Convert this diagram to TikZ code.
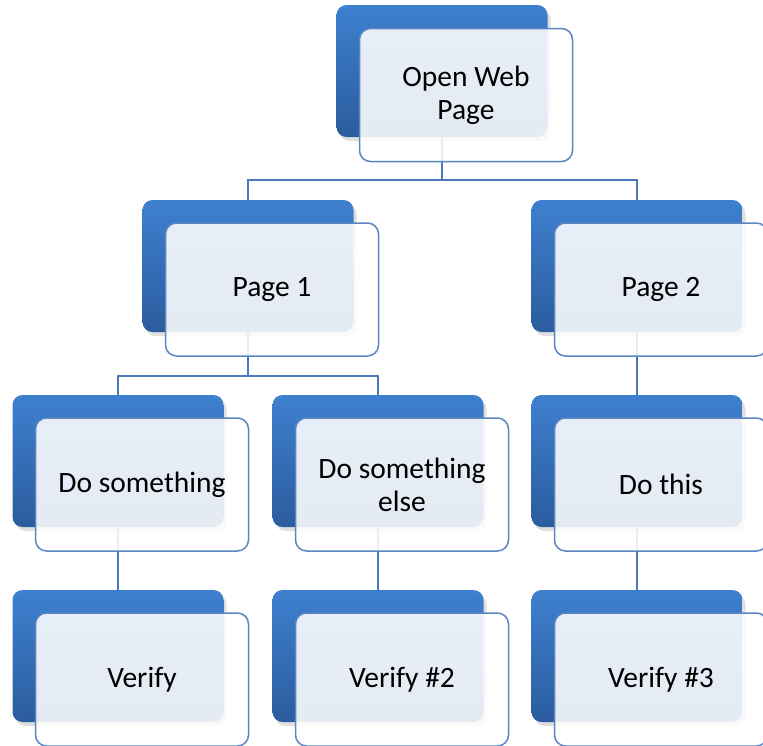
\documentclass[tikz,border=0pt]{standalone}
\usepackage{fontspec}
\setmainfont{Carlito}
\usetikzlibrary{shadows}

\definecolor{backtop}{HTML}{3E80CF}
\definecolor{backbot}{HTML}{2B5C9E}
\definecolor{frameblue}{HTML}{5A86C2}
\definecolor{linkblue}{HTML}{4A78B8}

\begin{document}
\begin{tikzpicture}[
    x=1pt,
    y=-1pt,
    back/.style={
        rounded corners=10pt,
        top color=backtop,
        bottom color=backbot,
        minimum width=211pt,
        minimum height=132pt,
        inner sep=0pt,
        drop shadow={shadow xshift=3pt, shadow yshift=-4pt, opacity=0.25},
    },
    front/.style={
        draw=frameblue,
        line width=1.5pt,
        rounded corners=11pt,
        fill=white,
        fill opacity=0.88,
        text opacity=1,
        minimum width=213pt,
        minimum height=133pt,
        inner sep=0pt,
        align=center,
        font=\fontsize{29.5}{33}\selectfont,
    },
    link/.style={draw=linkblue, line width=1.5pt},
]
    \useasboundingbox (0,0) rectangle (763,745);

    % back boxes
    \node[back] (web)   at (442,71)  {};
    \node[back] (page1) at (248,266) {};
    \node[back] (page2) at (637,266) {};
    \node[back] (do1)   at (118,461) {};
    \node[back] (do2)   at (378,461) {};
    \node[back] (do3)   at (637,461) {};
    \node[back] (ver1)  at (118,656) {};
    \node[back] (ver2)  at (378,656) {};
    \node[back] (ver3)  at (637,656) {};

    % links
    \path[link]
        (web.south)   -- ++(0,43) -| (page1.north)
        (web.south)   -- ++(0,43) -| (page2.north)
        (page1.south) -- ++(0,44) -| (do1.north)
        (page1.south) -- ++(0,44) -| (do2.north)
        (page2.south) -- (do3.north)
        (do1.south)   -- (ver1.north)
        (do2.south)   -- (ver2.north)
        (do3.south)   -- (ver3.north)
    ;

    % front boxes
    \node[front] (webF)   at (466,95)  {Open Web\\Page};
    \node[front] (page1F) at (272,289.5) {Page 1};
    \node[front] (page2F) at (661,289.5) {Page 2};
    \node[front] (do1F)   at (142,484.5) {Do something};
    \node[front] (do2F)   at (402,484.5) {Do something\\else};
    \node[front] (do3F)   at (661,484.5) {Do this};
    \node[front] (ver1F)  at (142,679.5) {Verify};
    \node[front] (ver2F)  at (402,679.5) {Verify \#2};
    \node[front] (ver3F)  at (661,679.5) {Verify \#3};
\end{tikzpicture}
\end{document}
